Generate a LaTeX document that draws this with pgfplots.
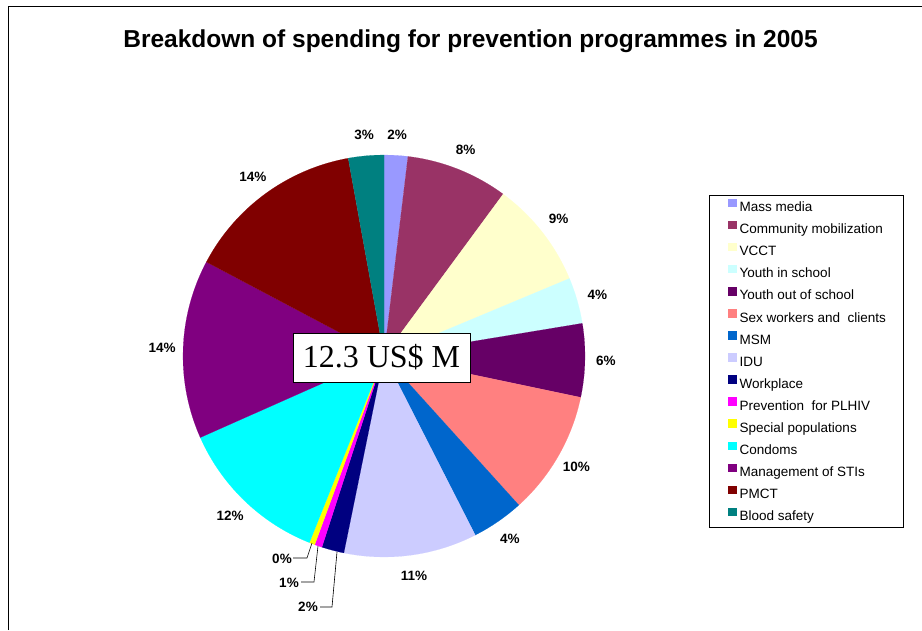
\documentclass[border=0pt]{standalone}
\usepackage{pgfplots}
\pgfplotsset{compat=1.18}
\usepackage{pgfplotstable}
\usepackage{fontspec}
\setmainfont{Liberation Sans}
\newfontfamily\seriffont{Liberation Serif}

\definecolor{slice0}{HTML}{9999FF}
\definecolor{slice1}{HTML}{993366}
\definecolor{slice2}{HTML}{FFFFCC}
\definecolor{slice3}{HTML}{CCFFFF}
\definecolor{slice4}{HTML}{660066}
\definecolor{slice5}{HTML}{FF8080}
\definecolor{slice6}{HTML}{0066CC}
\definecolor{slice7}{HTML}{CCCCFF}
\definecolor{slice8}{HTML}{000080}
\definecolor{slice9}{HTML}{FF00FF}
\definecolor{slice10}{HTML}{FFFF00}
\definecolor{slice11}{HTML}{00FFFF}
\definecolor{slice12}{HTML}{800080}
\definecolor{slice13}{HTML}{800000}
\definecolor{slice14}{HTML}{008080}

\tikzset{lbl/.style={font=\bfseries\fontsize{13.5}{15}\selectfont}}

% share of prevention spending (percent), label shown
\pgfplotstableread{
value lab
1.9 2
8.2 8
8.6 9
3.7 4
5.9 6
10.0 10
4.2 4
10.7 11
1.8 2
0.6 1
0.45 0
12.3 12
14.4 14
14.4 14
2.85 3
}\piedata

\begin{document}
\begin{tikzpicture}
\begin{axis}[
  width=922pt, height=630pt, scale only axis,
  xmin=0, xmax=922, ymin=0, ymax=630, y dir=reverse,
  hide axis, clip=false,
  legend cell align=left,
  legend image code/.code={\fill[#1, draw=none] (0pt,0pt) rectangle (8.5pt,8.5pt);},
  legend style={at={(axis cs:728,196)}, anchor=north west, draw=none, fill=none,
    inner xsep=0pt, inner ysep=0pt, column sep=3pt, row sep=0pt,
    font=\fontsize{13.5}{15}\selectfont,
    nodes={inner sep=0pt, text height=15.5pt, text depth=6.57pt}},
]
\pgfplotstablegetrowsof{\piedata}
\pgfmathtruncatemacro\nrows{\pgfplotsretval-1}
\def\cum{0}
\pgfplotsforeachungrouped \i in {0,...,\nrows}{%
  \pgfplotstablegetelem{\i}{value}\of\piedata
  \let\v\pgfplotsretval
  \pgfplotstablegetelem{\i}{lab}\of\piedata
  \let\lab\pgfplotsretval
  \pgfmathsetmacro\a{3.6*\cum}
  \pgfmathsetmacro\b{3.6*(\cum+\v)}
  \pgfmathsetmacro\m{3.6*(\cum+\v/2)}
  \pgfmathsetmacro\lx{384+222*sin(\m)}
  \pgfmathsetmacro\ly{356-222*cos(\m)}
  \edef\temp{\noexpand\addplot[forget plot, fill=slice\i, draw=slice\i, line width=0.1pt, domain=\a:\b, samples=60, variable=\noexpand\t] ({384+201*sin(\noexpand\t)},{356-201*cos(\noexpand\t)}) -- (axis cs:384,356) -- cycle;}%
  \temp
  \ifnum\i<8
    \edef\temp{\noexpand\node[lbl] at (axis cs:\lx,\ly) {\lab\noexpand\%};}\temp
  \else\ifnum\i>10
    \edef\temp{\noexpand\node[lbl] at (axis cs:\lx,\ly) {\lab\noexpand\%};}\temp
  \fi\fi
  \pgfmathsetmacro\cum{\cum+\v}%
}

% leader lines for the thin slices
\addplot[forget plot, black, line width=0.6pt] coordinates {(293,558) (307,558) (312,543)};
\addplot[forget plot, black, line width=0.6pt] coordinates {(301,582) (314,582) (318,546)};
\addplot[forget plot, black, line width=0.6pt] coordinates {(320,607) (332,607) (337,552)};
\node[lbl] at (axis cs:282,559) {0\%};
\node[lbl] at (axis cs:289,583) {1\%};
\node[lbl] at (axis cs:308,607) {2\%};

% centre box
\node[draw=black, fill=white, line width=0.8pt, minimum width=177pt, minimum height=49pt,
  inner sep=0pt, font=\seriffont\fontsize{32}{36}\selectfont] at (axis cs:381.5,357.5) {12.3 US\$ M};

% title
\node[font=\bfseries\fontsize{24.5}{28}\selectfont, anchor=base] at (axis cs:470.5,47.5)
  {Breakdown of spending for prevention programmes in 2005};

% frame and legend box
\draw[line width=1pt] (axis cs:8.5,630) -- (axis cs:8.5,6.5) -- (axis cs:922,6.5);
\draw[line width=0.8pt] (axis cs:709,195) rectangle (axis cs:903,527);

\addlegendimage{fill=slice0}\addlegendentry{Mass media}
\addlegendimage{fill=slice1}\addlegendentry{Community mobilization}
\addlegendimage{fill=slice2}\addlegendentry{VCCT}
\addlegendimage{fill=slice3}\addlegendentry{Youth in school}
\addlegendimage{fill=slice4}\addlegendentry{Youth out of school}
\addlegendimage{fill=slice5}\addlegendentry{Sex workers and\ \ clients}
\addlegendimage{fill=slice6}\addlegendentry{MSM}
\addlegendimage{fill=slice7}\addlegendentry{IDU}
\addlegendimage{fill=slice8}\addlegendentry{Workplace}
\addlegendimage{fill=slice9}\addlegendentry{Prevention\ \ for PLHIV}
\addlegendimage{fill=slice10}\addlegendentry{Special populations}
\addlegendimage{fill=slice11}\addlegendentry{Condoms}
\addlegendimage{fill=slice12}\addlegendentry{Management of STIs}
\addlegendimage{fill=slice13}\addlegendentry{PMCT}
\addlegendimage{fill=slice14}\addlegendentry{Blood safety}
\end{axis}
\pgfresetboundingbox
\path[use as bounding box] (current axis.south west) rectangle (current axis.north east);
\end{tikzpicture}
\end{document}
